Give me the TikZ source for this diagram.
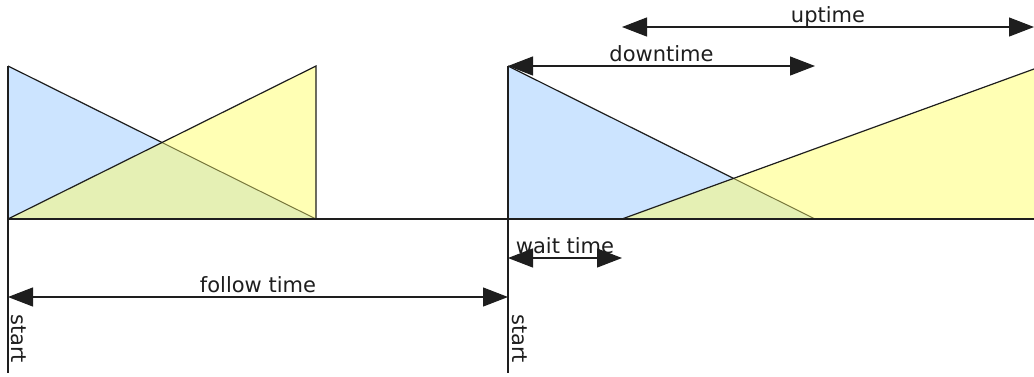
\documentclass[tikz,border=0pt]{standalone}
\usepackage{fontspec}
\setmainfont{DejaVu Sans}
\usetikzlibrary{arrows.meta,calc}
\definecolor{bfill}{RGB}{204,228,255}
\definecolor{yfill}{RGB}{255,255,180}
\definecolor{gfill}{RGB}{229,240,180}
\definecolor{linec}{RGB}{30,30,30}
\definecolor{olive}{RGB}{120,120,60}
\begin{document}
\begin{tikzpicture}[x=1pt,y=-1pt,
  ln/.style={draw=linec, line width=1.2pt},
  ovl/.style={draw=olive, line width=1pt},
  dim/.style={draw=linec, line width=1.2pt, {Triangle[length=25pt,width=19pt]}-{Triangle[length=25pt,width=19pt]}},
  lbl/.style={font=\fontsize{21}{25}\selectfont, text=linec, inner sep=0pt}]
\useasboundingbox (0,0) rectangle (1034,376);
% key points
\coordinate (LT) at (8,66);
\coordinate (LB) at (8,219);
\coordinate (LE) at (8,373);
\coordinate (MT) at (316,66);
\coordinate (MB) at (316,219);
\coordinate (RT) at (508,66);
\coordinate (RB) at (508,219);
\coordinate (RE) at (508,373);
\coordinate (BE) at (815,219);
\coordinate (YS) at (622,219);
\coordinate (YT) at (1034,69);
\coordinate (YE) at (1034,219);
\coordinate (LX) at (intersection of LT--MB and LB--MT);
\coordinate (RX) at (intersection of RT--BE and YS--YT);
% left triangles
\fill[bfill] (LT) -- (LB) -- (MB) -- cycle;
\fill[yfill] (LB) -- (MT) -- (MB) -- cycle;
\fill[gfill] (LB) -- (LX) -- (MB) -- cycle;
% right triangles
\fill[bfill] (RT) -- (RB) -- (BE) -- cycle;
\fill[yfill] (YS) -- (YT) -- (YE) -- cycle;
\fill[gfill] (YS) -- (RX) -- (BE) -- cycle;
% outlines
\draw[ln] (LT) -- (LX);
\draw[ovl] (LX) -- (MB);
\draw[ln] (LB) -- (MT) -- (MB);
\draw[ln] (RT) -- (RX);
\draw[ovl] (RX) -- (BE);
\draw[ln] (YS) -- (YT);
\draw[ln] (LT) -- (LE);
\draw[ln] (RT) -- (RE);
\draw[ln] (LB) -- (YE);
% dimension arrows
\coordinate (U1) at (622,27);  \coordinate (U2) at (1034,27);
\coordinate (D1) at (508,66);  \coordinate (D2) at (815,66);
\coordinate (W1) at (508,258); \coordinate (W2) at (622,258);
\coordinate (F1) at (8,297);   \coordinate (F2) at (508,297);
\draw[dim] (U1) -- (U2) node[midway, lbl, anchor=base, yshift=5pt] (up) {uptime};
\draw[dim] (D1) -- (D2) node[midway, lbl, anchor=base, yshift=5pt] (dn) {downtime};
\draw[dim] (W1) -- (W2) node[midway, lbl, anchor=base, yshift=5pt] (wt) {wait time};
\draw[dim] (F1) -- (F2) node[midway, lbl, anchor=base, yshift=5pt] (fl) {follow time};
\node[lbl, rotate=-90, anchor=base west] (s1) at (12,314) {start};
\node[lbl, rotate=-90, anchor=base west] (s2) at (512,314) {start};
\end{tikzpicture}
\end{document}
